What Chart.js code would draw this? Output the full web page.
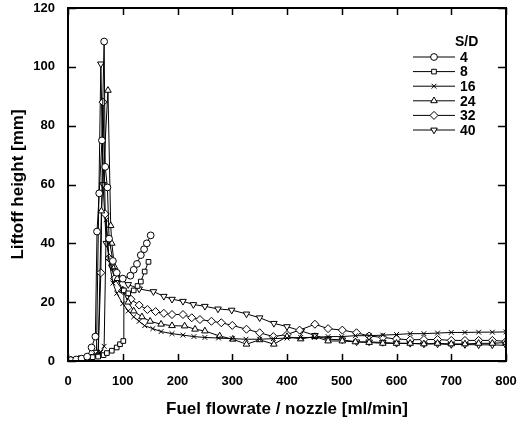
<!DOCTYPE html>
<html>
<head>
<meta charset="utf-8">
<script src="https://cdn.jsdelivr.net/npm/chart.js@4.4.1/dist/chart.umd.min.js"></script>
<style>
html,body{margin:0;padding:0;background:#fff;}
#wrap{width:521px;height:426px;position:relative;}
</style>
</head>
<body>
<div id="wrap"><canvas id="c" width="521" height="426"></canvas></div>
<script>
// ---- data ----
const seriesLabels = ["4", "8", "16", "24", "32", "40"];
const xTicks = [0, 100, 200, 300, 400, 500, 600, 700, 800];
const yTicks = [0, 20, 40, 60, 80, 100, 120];

const sd4X = [5, 15, 25, 35, 43, 50, 53, 57, 62, 66, 68, 72, 75, 82, 89, 100, 114, 120, 126, 133, 139, 144, 151];
const sd4Y = [0.3, 0.5, 0.8, 1.5, 4.6, 8.3, 44, 57, 75, 108.6, 66, 59, 41.6, 34, 30, 28, 29, 31, 33, 36, 38, 40, 42.7];

const sd8X = [5, 15, 25, 35, 45, 55, 65, 71, 80, 89, 95, 101, 102, 110, 120, 127, 133, 140, 147];
const sd8Y = [0.3, 0.5, 0.8, 1, 1.3, 1.5, 2, 2.7, 3.5, 4.6, 5.7, 6.8, 24, 23, 24, 25.5, 27, 30.4, 33.7];

const sd16X = [5, 20, 35, 50, 60, 66, 70, 74, 82, 89, 100, 110, 120, 130, 140, 155, 170, 190, 210, 230, 250, 275, 300, 325, 350, 375, 400, 425, 450, 475, 500, 525, 550, 575, 600, 625, 650, 675, 700, 725, 750, 775, 800];
const sd16Y = [0.3, 0.5, 1, 2, 3, 5, 48, 35, 26.5, 23, 19.5, 17, 15, 13.5, 12, 11, 10, 9.3, 8.8, 8.3, 8, 7.8, 7.6, 7.4, 7.4, 7.6, 7.8, 8, 8, 8.3, 8.3, 8.6, 8.6, 8.8, 9, 9.3, 9.3, 9.5, 9.7, 9.7, 9.8, 9.8, 9.9];

const sd24X = [5, 20, 40, 55, 61, 73, 78, 80, 85, 90, 100, 110, 120, 135, 150, 170, 190, 213, 232, 250, 277, 301, 326, 350, 376, 400, 425, 451, 475, 501, 525, 550, 575, 600, 625, 650, 675, 700, 725, 750, 775, 800];
const sd24Y = [0.3, 0.5, 1, 2, 51, 92, 46, 40, 32, 28, 24, 20, 17, 15, 13.5, 12.5, 12, 11.9, 10.8, 10.2, 8.5, 7.4, 5.7, 7.2, 5.7, 8.3, 7.5, 8.3, 6.8, 6.8, 6.5, 6.3, 6, 6, 6, 5.8, 6, 5.8, 5.8, 6, 6, 6.3];

const sd32X = [5, 20, 40, 55, 60, 64, 68, 75, 85, 100, 115, 130, 145, 160, 175, 190, 210, 226, 241, 262, 280, 300, 326, 350, 375, 400, 423, 451, 475, 501, 527, 550, 575, 600, 625, 650, 675, 700, 725, 750, 775, 800];
const sd32Y = [0.3, 0.5, 1, 2, 30, 88, 50, 35, 28, 24, 21, 19, 17.5, 16.8, 16.2, 15.8, 15.8, 14.7, 14.1, 13.5, 13, 12.1, 10.8, 9.6, 8.3, 9, 10.5, 12.5, 11, 10.5, 9.6, 8.5, 8, 7.5, 7.2, 7.3, 7.3, 7, 7, 7, 7, 6.7];

const sd40X = [5, 15, 25, 35, 45, 52, 60, 64, 70, 80, 95, 110, 130, 156, 175, 190, 210, 229, 250, 274, 299, 326, 350, 376, 400, 426, 451, 475, 501, 527, 550, 575, 600, 625, 650, 675, 700, 725, 750, 775, 800];
const sd40Y = [0.5, 0.5, 0.5, 1, 1.5, 3, 101, 60, 40, 32, 28, 26, 24.5, 23.6, 22, 21, 20.3, 19.2, 18.6, 17.7, 17.3, 16, 14.7, 12.8, 11.7, 10.2, 8.7, 7.4, 7.2, 6.5, 6.5, 6.3, 6, 6, 5.8, 5.8, 5.6, 5.6, 5.5, 5.5, 5.3];

const seriesX = [sd4X, sd8X, sd16X, sd24X, sd32X, sd40X];
const seriesY = [sd4Y, sd8Y, sd16Y, sd24Y, sd32Y, sd40Y];
const pointStyles = ["circle", "rect", "crossRot", "triangle", "rectRot", "triangle"];
const rotations = [0, 0, 0, 0, 0, 180];
const radii = [3.4, 3.3, 3.4, 3.8, 4, 3.8];

const FONT = "'Liberation Sans', Arial, sans-serif";

const datasets = seriesLabels.map((lab, i) => ({
  label: lab,
  data: seriesX[i].map((x, j) => ({x: x, y: seriesY[i][j]})),
  borderColor: "#000",
  backgroundColor: "#fff",
  borderWidth: 1,
  pointStyle: pointStyles[i],
  rotation: rotations[i],
  pointRadius: radii[i],
  pointBorderWidth: 1,
  pointBorderColor: "#000",
  pointBackgroundColor: "#fff",
  showLine: true,
  tension: 0,
  fill: false
}));

const framePlugin = {
  id: "frame",
  afterDraw(chart) {
    const ctx = chart.ctx;
    const a = chart.chartArea;
    const xs = chart.scales.x, ys = chart.scales.y;
    ctx.save();
    ctx.strokeStyle = "#000";
    ctx.lineWidth = 2;
    ctx.strokeRect(a.left, a.top, a.right - a.left, a.bottom - a.top);
    ctx.lineWidth = 1.5;
    ctx.beginPath();
    xTicks.forEach(v => {
      const px = Math.round(xs.getPixelForValue(v)) + 0.5;
      ctx.moveTo(px, a.bottom); ctx.lineTo(px, a.bottom - 7);
      ctx.moveTo(px, a.top); ctx.lineTo(px, a.top + 7);
    });
    yTicks.forEach(v => {
      const py = Math.round(ys.getPixelForValue(v)) + 0.5;
      ctx.moveTo(a.left, py); ctx.lineTo(a.left + 8, py);
      ctx.moveTo(a.right, py); ctx.lineTo(a.right - 8, py);
    });
    ctx.stroke();

    // legend
    const lx0 = 413, lx1 = 455, mx = 434, tx = 460;
    const ly0 = 57, dy = 14.6;
    ctx.font = "bold 14px " + FONT;
    ctx.textBaseline = "middle";
    ctx.textAlign = "left";
    ctx.fillStyle = "#000";
    ctx.fillText("S/D", 455, 42);
    chart.data.datasets.forEach((ds, i) => {
      const y = ly0 + i * dy;
      ctx.strokeStyle = "#000";
      ctx.lineWidth = 1;
      ctx.beginPath();
      ctx.moveTo(lx0, y); ctx.lineTo(lx1, y);
      ctx.stroke();
      ctx.fillStyle = "#fff";
      Chart.helpers.drawPoint(ctx, {
        pointStyle: ds.pointStyle, rotation: ds.rotation, radius: ds.pointRadius, borderWidth: 1
      }, mx, y);
      ctx.fillStyle = "#000";
      ctx.fillText(ds.label, tx, y + 1);
    });
    ctx.restore();
  }
};

const bgPlugin = {
  id: "bg",
  beforeDraw(chart) {
    chart.ctx.save();
    chart.ctx.fillStyle = "#fff";
    chart.ctx.fillRect(0, 0, chart.width, chart.height);
    chart.ctx.restore();
  }
};

new Chart(document.getElementById("c"), {
  type: "line",
  data: {datasets: datasets},
  options: {
    responsive: false,
    animation: false,
    devicePixelRatio: 1,
    layout: {padding: {left: 0, top: 8, right: 15, bottom: 0}},
    plugins: {legend: {display: false}, tooltip: {enabled: false}},
    scales: {
      x: {
        type: "linear", min: 0, max: 800,
        afterBuildTicks: s => { s.ticks = xTicks.map(v => ({value: v})); },
        afterFit: s => { s.height = 65; s.paddingLeft = 0; s.paddingRight = 0; },
        grid: {display: false, drawTicks: false},
        border: {display: false},
        ticks: {color: "#000", padding: 13, font: {family: FONT, size: 13, weight: "bold"}},
        title: {display: true, text: "Fuel flowrate / nozzle [ml/min]", color: "#000",
                font: {family: FONT, size: 17, weight: "bold"}, padding: {top: 0, bottom: 6}}
      },
      y: {
        type: "linear", min: 0, max: 120,
        afterBuildTicks: s => { s.ticks = yTicks.map(v => ({value: v})); },
        afterFit: s => { s.width = 68; s.paddingTop = 0; s.paddingBottom = 0; },
        grid: {display: false, drawTicks: false},
        border: {display: false},
        ticks: {color: "#000", padding: 13, font: {family: FONT, size: 13, weight: "bold"}},
        title: {display: true, text: "Liftoff height [mm]", color: "#000",
                font: {family: FONT, size: 17, weight: "bold"}, padding: {top: 8, bottom: 0}}
      }
    }
  },
  plugins: [bgPlugin, framePlugin]
});
</script>
</body>
</html>
